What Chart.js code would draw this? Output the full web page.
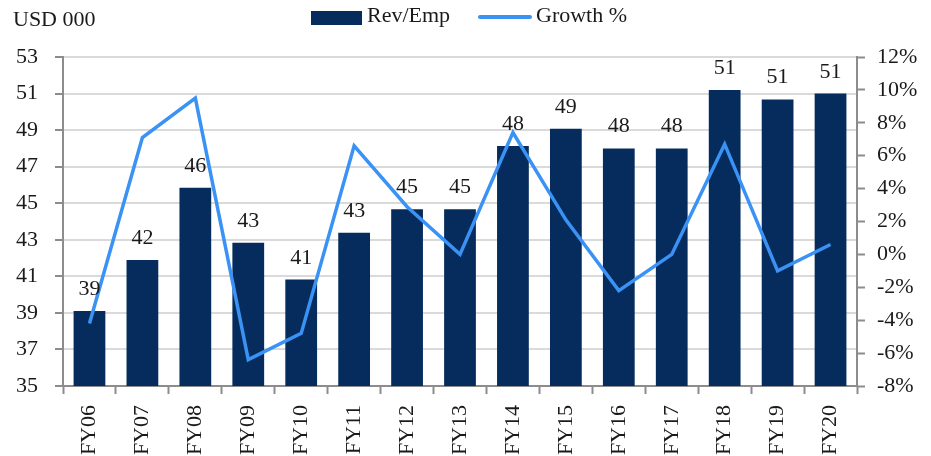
<!DOCTYPE html>
<html>
<head>
<meta charset="utf-8">
<script src="https://cdn.jsdelivr.net/npm/chart.js@4.4.1/dist/chart.umd.min.js"></script>
<style>
  html, body { margin: 0; padding: 0; background: #fff; }
  #wrap { width: 931px; height: 456px; position: relative; }
</style>
</head>
<body>
<div id="wrap"><canvas id="chart"></canvas></div>
<script>
// data
const years = ["FY06", "FY07", "FY08", "FY09", "FY10", "FY11", "FY12", "FY13",
               "FY14", "FY15", "FY16", "FY17", "FY18", "FY19", "FY20"];
const revPerEmp = [39.1, 41.9, 45.85, 42.84, 40.82, 43.39, 44.67, 44.67,
                   48.13, 49.08, 48.0, 48.0, 51.2, 50.68, 51.0];
const growthPct = [-4.2, 7.1, 9.5, -6.4, -4.8, 6.6, 2.9, 0.0,
                   7.4, 2.1, -2.2, 0.0, 6.7, -1.0, 0.6];
const unitLabel = "USD 000";

const NAVY = "#052c5c";
const BLUE = "#3a92f5";
const AXIS = "#8c8c8c";
const GRID = "#dadada";
const FONT = "'Liberation Serif', 'Times New Roman', serif";
const TEXT = "#1a1a1a";

Chart.defaults.font.family = FONT;
Chart.defaults.font.size = 22;
Chart.defaults.color = TEXT;

// value labels above bars, unit label and the legend row
const annotations = {
    id: "annotations",
    afterDatasetsDraw(chart) {
        const ctx = chart.ctx;
        const meta = chart.getDatasetMeta(0);
        ctx.save();
        ctx.font = "22px " + FONT;
        ctx.fillStyle = TEXT;
        ctx.textAlign = "center";
        ctx.textBaseline = "alphabetic";
        meta.data.forEach((bar, i) => {
            ctx.fillText(Math.round(revPerEmp[i]), bar.x, bar.y - 16);
        });

        ctx.textAlign = "left";
        ctx.fillText(unitLabel, 13, 26);

        // legend
        const ds = chart.data.datasets;
        ctx.fillStyle = NAVY;
        ctx.fillRect(311, 11, 51, 14);
        ctx.fillStyle = TEXT;
        ctx.fillText(ds[0].label, 367, 22);
        ctx.strokeStyle = BLUE;
        ctx.lineWidth = 4;
        ctx.lineCap = "round";
        ctx.beginPath();
        ctx.moveTo(480, 17);
        ctx.lineTo(530, 17);
        ctx.stroke();
        ctx.fillText(ds[1].label, 536, 22);
        ctx.restore();
    },
};

new Chart(document.getElementById("chart"), {
    data: {
        labels: years,
        datasets: [
            {
                type: "bar",
                label: "Rev/Emp",
                data: revPerEmp,
                backgroundColor: NAVY,
                borderWidth: 0,
                categoryPercentage: 1.0,
                barPercentage: 0.6,
                yAxisID: "y",
                order: 1,
            },
            {
                type: "line",
                label: "Growth %",
                data: growthPct,
                borderColor: BLUE,
                backgroundColor: BLUE,
                borderWidth: 3.5,
                pointRadius: 0,
                tension: 0,
                yAxisID: "y1",
                order: 0,
            },
        ],
    },
    options: {
        responsive: true,
        maintainAspectRatio: false,
        animation: false,
        layout: { padding: { top: 57, left: 0, right: 0, bottom: 0 } },
        plugins: {
            tooltip: { enabled: false },
            legend: { display: false },
        },
        scales: {
            x: {
                grid: {
                    offset: true,
                    drawOnChartArea: false,
                    drawTicks: true,
                    tickLength: 8,
                    tickColor: AXIS,
                    tickWidth: 2,
                },
                border: { color: AXIS, width: 2 },
                ticks: { minRotation: 90, maxRotation: 90, padding: 11 },
                afterFit(scale) { scale.height = 70; },
            },
            y: {
                position: "left",
                min: 35,
                max: 53,
                ticks: { stepSize: 2, padding: 17 },
                grid: {
                    color: GRID,
                    lineWidth: 2,
                    tickLength: 8,
                    tickColor: AXIS,
                    tickWidth: 2,
                },
                border: { color: AXIS, width: 2 },
                afterFit(scale) { scale.width = 63; },
            },
            y1: {
                position: "right",
                min: -8,
                max: 12,
                ticks: { stepSize: 2, padding: 12, callback: (v) => v + "%" },
                grid: {
                    drawOnChartArea: false,
                    tickLength: 8,
                    tickColor: AXIS,
                    tickWidth: 2,
                },
                border: { color: AXIS, width: 2 },
                afterFit(scale) { scale.width = 74; },
            },
        },
    },
    plugins: [annotations],
});
</script>
</body>
</html>
